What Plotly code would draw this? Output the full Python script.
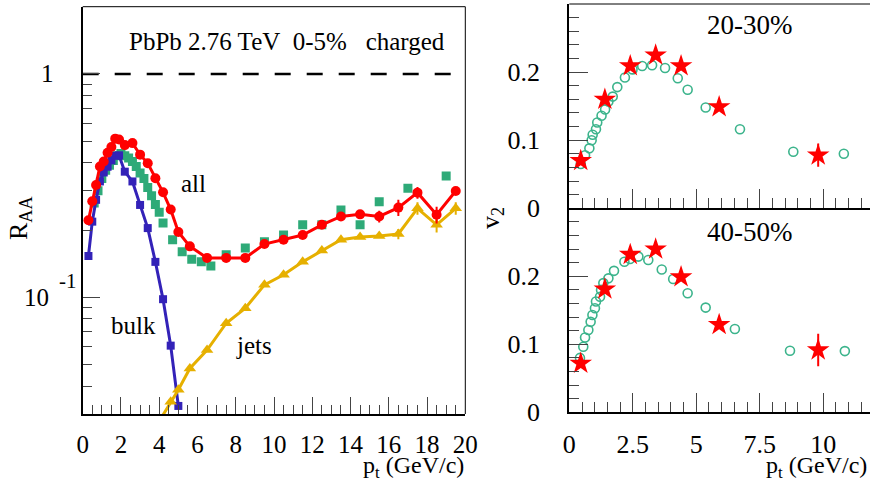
import plotly.graph_objects as go
import math

# ---------------- data: left panel (R_AA, 0-5%) ----------------
all_x = [0.3, 0.5, 0.7, 0.9, 1.1, 1.3, 1.5, 1.7, 1.9, 2.2, 2.6, 3.0, 3.4, 3.8, 4.2, 4.6, 5.0, 5.6,
         6.5, 7.5, 8.5, 9.5, 10.5, 11.5, 12.5, 13.5, 14.5, 15.5, 16.5, 17.5, 18.5, 19.5]
all_y = [0.221, 0.269, 0.318, 0.385, 0.405, 0.444, 0.471, 0.513, 0.509, 0.480, 0.490, 0.435, 0.398,
         0.341, 0.295, 0.247, 0.196, 0.169, 0.150, 0.150, 0.150, 0.173, 0.181, 0.190, 0.211, 0.230,
         0.235, 0.230, 0.252, 0.294, 0.234, 0.299]
all_err = [0]*25 + [0.004, 0.008, 0.014, 0.021, 0.018, 0.020]

bulk_x = [0.3, 0.5, 0.7, 0.9, 1.1, 1.3, 1.5, 1.7, 1.9, 2.2, 2.6, 3.0, 3.4, 3.8, 4.2, 4.6, 5.0]
bulk_y = [0.153, 0.218, 0.273, 0.330, 0.362, 0.384, 0.410, 0.430, 0.432, 0.365, 0.330, 0.259,
          0.204, 0.144, 0.098, 0.0607, 0.0326]

jets_x = [3.4, 3.8, 4.2, 4.6, 5.0, 5.6, 6.5, 7.5, 8.5, 9.5, 10.5, 11.5, 12.5, 13.5, 14.5, 15.5,
          16.5, 17.5, 18.5, 19.5]
jets_y = [0.022, 0.026, 0.0297, 0.034, 0.0385, 0.048, 0.058, 0.0765, 0.0893, 0.1136, 0.126, 0.144,
          0.162, 0.181, 0.186, 0.188, 0.192, 0.250, 0.211, 0.250]
jets_err = [0]*15 + [0.003, 0.010, 0.016, 0.016, 0.016]

data_x = [0.6, 0.8, 1.0, 1.2, 1.4, 1.6, 1.8, 2.0, 2.2, 2.4, 2.6, 2.8, 3.0, 3.2, 3.4, 3.6, 3.8, 4.0,
          4.2, 4.7, 5.2, 5.7, 6.2, 6.7, 7.5, 8.5, 9.5, 10.5, 11.5, 12.5, 13.5, 14.5, 15.5, 17.0, 19.0]
data_y = [0.264, 0.30, 0.34, 0.37, 0.39, 0.41, 0.43, 0.44, 0.43, 0.42, 0.405, 0.385, 0.36, 0.34,
          0.31, 0.285, 0.26, 0.24, 0.215, 0.181, 0.160, 0.148, 0.144, 0.138, 0.155, 0.166, 0.177,
          0.190, 0.211, 0.211, 0.246, 0.211, 0.268, 0.308, 0.349]

# ---------------- data: right panels (v2) ----------------
v2a_model_x = [0.45, 0.62, 0.79, 0.88, 0.92, 1.05, 1.10, 1.27, 1.41, 1.54, 1.71, 1.89, 2.19, 2.49,
               2.87, 3.26, 3.77, 4.27, 4.66, 5.37, 6.72, 8.82, 10.81]
v2a_model_y = [0.065, 0.078, 0.088, 0.100, 0.108, 0.116, 0.126, 0.136, 0.145, 0.157, 0.164, 0.178,
               0.192, 0.204, 0.209, 0.210, 0.206, 0.191, 0.174, 0.148, 0.116, 0.083, 0.080]
v2a_data_x = [0.45, 1.4, 2.4, 3.4, 4.4, 5.9, 9.8]
v2a_data_y = [0.070, 0.160, 0.209, 0.225, 0.209, 0.149, 0.078]
v2a_data_err = [0, 0, 0, 0, 0, 0, 0.017]

v2b_model_x = [0.42, 0.55, 0.62, 0.75, 0.84, 0.91, 1.01, 1.05, 1.21, 1.25, 1.34, 1.54, 1.76, 2.17,
               2.39, 2.72, 3.11, 3.64, 4.09, 4.66, 5.37, 6.52, 8.69, 10.85]
v2b_model_y = [0.080, 0.0965, 0.110, 0.121, 0.133, 0.143, 0.153, 0.163, 0.170, 0.180, 0.190, 0.197,
               0.208, 0.2215, 0.2255, 0.229, 0.224, 0.210, 0.196, 0.175, 0.154, 0.1225, 0.0906, 0.090]
v2b_data_x = [0.45, 1.4, 2.4, 3.4, 4.4, 5.9, 9.8]
v2b_data_y = [0.072, 0.181, 0.232, 0.240, 0.199, 0.129, 0.0916]
v2b_data_err = [0, 0, 0, 0, 0, 0, 0.024]

# ---------------- styles ----------------
FONT = "Liberation Serif"
RED = "#ff0000"
BLUE = "#3322b8"
YELLOW = "#e6b000"
GREEN = "#2eaa78"
GREEN_O = "#3cb48c"

W, H = 870, 485
def px(x):
    return x / W
def py(y):
    return 1 - y / H

L_X0, L_X1, L_Y0, L_Y1 = 82.7, 465.3, 414.0, 6.7
R_X0, R_X1 = 569.3, 870.0
RT_Y0, RT_Y1 = 208.3, 4.0
RB_Y0, RB_Y1 = 412.3, 208.3

fig = go.Figure()

# left panel traces
fig.add_trace(go.Scatter(x=[0, 20], y=[1, 1], mode="lines",
                         line=dict(color="black", width=2.5, dash="16px,16px"),
                         xaxis="x", yaxis="y", showlegend=False, hoverinfo="skip"))
fig.add_trace(go.Scatter(x=data_x, y=data_y, mode="markers",
                         marker=dict(symbol="square", size=9, color=GREEN),
                         xaxis="x", yaxis="y", showlegend=False))
fig.add_trace(go.Scatter(x=bulk_x, y=bulk_y, mode="lines+markers",
                         line=dict(color=BLUE, width=3),
                         marker=dict(symbol="square", size=8, color=BLUE),
                         cliponaxis=False,
                         xaxis="x", yaxis="y", showlegend=False))
fig.add_trace(go.Scatter(x=jets_x, y=jets_y, mode="lines+markers",
                         line=dict(color=YELLOW, width=3),
                         marker=dict(symbol="triangle-up", size=11, color=YELLOW),
                         error_y=dict(type="data", array=jets_err, visible=True, color=YELLOW,
                                      thickness=2, width=0),
                         xaxis="x", yaxis="y", showlegend=False))
fig.add_trace(go.Scatter(x=all_x, y=all_y, mode="lines+markers",
                         line=dict(color=RED, width=3),
                         marker=dict(symbol="circle", size=10, color=RED),
                         error_y=dict(type="data", array=all_err, visible=True, color=RED,
                                      thickness=2, width=0),
                         xaxis="x", yaxis="y", showlegend=False))

# right panels
for mx, my, dx, dy, de, xa, ya in [
        (v2a_model_x, v2a_model_y, v2a_data_x, v2a_data_y, v2a_data_err, "x2", "y2"),
        (v2b_model_x, v2b_model_y, v2b_data_x, v2b_data_y, v2b_data_err, "x3", "y3")]:
    fig.add_trace(go.Scatter(x=mx, y=my, mode="markers",
                             marker=dict(symbol="circle-open", size=9, color=GREEN_O,
                                         line=dict(width=1.6, color=GREEN_O)),
                             xaxis=xa, yaxis=ya, showlegend=False))
    fig.add_trace(go.Scatter(x=dx, y=dy, mode="markers",
                             marker=dict(symbol="star", size=17, color=RED),
                             error_y=dict(type="data", array=de, visible=True, color=RED,
                                          thickness=2, width=0),
                             xaxis=xa, yaxis=ya, showlegend=False))

tickfont_l = dict(family=FONT, size=25, color="black")
tickfont_r = dict(family=FONT, size=26, color="black")

common = dict(showgrid=False, zeroline=False, showline=True, linecolor="black", linewidth=2,
              ticks="inside", tickwidth=1.2, tickcolor="#444", automargin=False)

fig.update_layout(
    template="none",
    width=W, height=H,
    margin=dict(l=0, r=0, t=0, b=0, pad=0),
    paper_bgcolor="white", plot_bgcolor="white",
    font=dict(family=FONT, color="black"),
    xaxis=dict(domain=[px(L_X0), px(L_X1)], range=[0, 20], anchor="y",
               tickvals=list(range(0, 21, 2)), ticklen=17,
               tickfont=tickfont_l, ticklabelstandoff=7,
               minor=dict(ticks="inside", dtick=0.5, ticklen=9, tickwidth=1.2, tickcolor="#444",
                          showgrid=False), **common),
    yaxis=dict(domain=[py(L_Y0), py(L_Y1)], type="log",
               range=[math.log10(0.03), math.log10(2.0)], anchor="x",
               tickvals=[0.1, 1], ticklen=17, showticklabels=False,
               minor=dict(ticks="inside", tickvals=[0.04, 0.05, 0.06, 0.07, 0.08, 0.09,
                                                    0.2, 0.3, 0.4, 0.5, 0.6, 0.7, 0.8, 0.9],
                          ticklen=9, tickwidth=1.2, tickcolor="#444", showgrid=False), **common),
    xaxis2=dict(domain=[px(R_X0), px(R_X1)], range=[0, 11.84], anchor="y2",
                tickvals=[0, 2.5, 5, 7.5, 10], ticklen=19, showticklabels=False,
                minor=dict(ticks="inside", dtick=0.5, ticklen=10, tickwidth=1.2,
                           tickcolor="#444", showgrid=False), **common),
    yaxis2=dict(domain=[py(RT_Y0), py(RT_Y1)], range=[0, 0.3], anchor="x2",
                tickvals=[0, 0.1, 0.2], ticktext=["0", "0.1", "0.2"],
                ticklen=19, tickfont=tickfont_r, ticklabelstandoff=22,
                minor=dict(ticks="inside", dtick=0.02, ticklen=10, tickwidth=1.2,
                           tickcolor="#444", showgrid=False), **common),
    xaxis3=dict(domain=[px(R_X0), px(R_X1)], range=[0, 11.84], anchor="y3",
                tickvals=[0, 2.5, 5, 7.5, 10], ticktext=["0", "2.5", "5", "7.5", "10"],
                ticklen=19, tickfont=tickfont_r, ticklabelstandoff=7,
                minor=dict(ticks="inside", dtick=0.5, ticklen=10, tickwidth=1.2,
                           tickcolor="#444", showgrid=False), **common),
    yaxis3=dict(domain=[py(RB_Y0), py(RB_Y1)], range=[0, 0.3], anchor="x3",
                tickvals=[0, 0.1, 0.2], ticktext=["0", "0.1", "0.2"],
                ticklen=19, tickfont=tickfont_r, ticklabelstandoff=22,
                minor=dict(ticks="inside", dtick=0.02, ticklen=10, tickwidth=1.2,
                           tickcolor="#444", showgrid=False), **common),
)

# thin frame lines (top / right of left panel, top of right panel)
fig.add_shape(type="line", xref="paper", yref="paper", x0=px(L_X0), x1=px(L_X1),
              y0=py(L_Y1), y1=py(L_Y1), line=dict(color="black", width=1))
fig.add_shape(type="line", xref="paper", yref="paper", x0=px(L_X1), x1=px(L_X1),
              y0=py(L_Y0), y1=py(L_Y1), line=dict(color="black", width=1))
fig.add_shape(type="line", xref="paper", yref="paper", x0=px(R_X0), x1=1,
              y0=py(RT_Y1), y1=py(RT_Y1), line=dict(color="black", width=1))

ann = []
def txt(x, y, s, size, xanchor="center", yanchor="middle", angle=0, xref="paper", yref="paper"):
    ann.append(dict(x=x, y=y, xref=xref, yref=yref, text=s, showarrow=False,
                    xanchor=xanchor, yanchor=yanchor, textangle=angle,
                    font=dict(family=FONT, size=size, color="black")))

# left y tick labels (ROOT style: "10" with a detached "-1" exponent)
txt(px(56), 0, "1", 25, xanchor="right", yref="y")
txt(px(51), -1, "10", 25, xanchor="right", yref="y")
txt(px(67.5), py(281), "-1", 21, xanchor="center")

txt(px(287), py(41), "PbPb 2.76 TeV\u00a0\u00a00-5%\u00a0\u00a0\u00a0charged", 25)
txt(px(193), py(183), "all", 25)
txt(px(133), py(325), "bulk", 25)
txt(px(254), py(345), "jets", 25)
txt(px(20), py(218), "R<sub>AA</sub>", 26, angle=-90)
txt(px(466), py(484), "p<sub>t</sub> (GeV/c)", 24, xanchor="right", yanchor="bottom")
txt(px(749), py(25), "20-30%", 27)
txt(px(749), py(232), "40-50%", 27)
txt(px(492), py(218), "v<sub>2</sub>", 26, angle=-90)
txt(px(869), py(484), "p<sub>t</sub> (GeV/c)", 24, xanchor="right", yanchor="bottom")

fig.update_layout(annotations=ann)

fig.write_html("out.html")
